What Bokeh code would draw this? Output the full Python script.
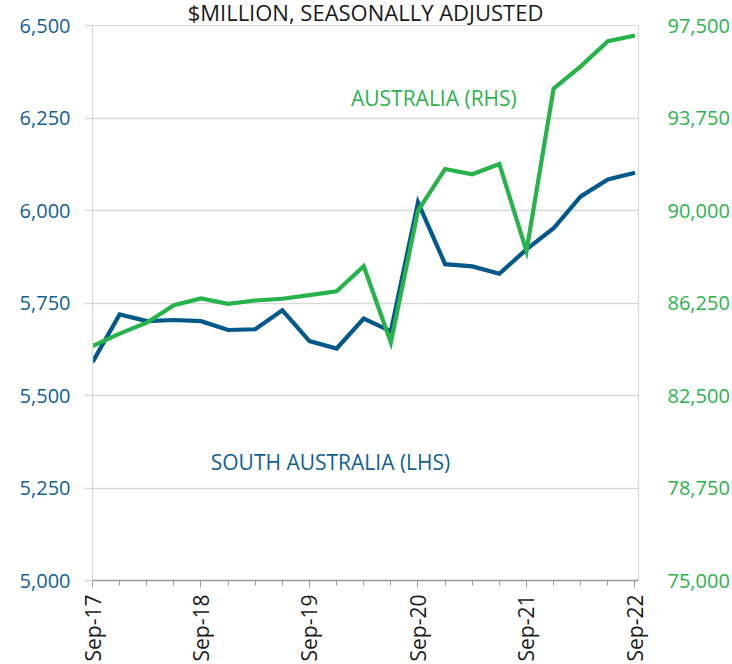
import math
from bokeh.plotting import figure
from bokeh.models import Range1d, LinearAxis, FixedTicker, NumeralTickFormatter, Label
from bokeh.embed import file_html
from bokeh.resources import INLINE

quarters = ["Sep-17", "Dec-17", "Mar-18", "Jun-18", "Sep-18", "Dec-18", "Mar-19", "Jun-19",
            "Sep-19", "Dec-19", "Mar-20", "Jun-20", "Sep-20", "Dec-20", "Mar-21", "Jun-21",
            "Sep-21", "Dec-21", "Mar-22", "Jun-22", "Sep-22"]
south_australia = [5590, 5719, 5701, 5704, 5701, 5677, 5679, 5730, 5647, 5627, 5708, 5674,
                   6022, 5855, 5849, 5829, 5895, 5952, 6038, 6084, 6102]
australia = [84506, 85007, 85451, 86163, 86433, 86218, 86352, 86421, 86566, 86728, 87738, 84650,
             89987, 91684, 91470, 91886, 88350, 94943, 95844, 96866, 97096]
lhs_ticks = [5000, 5250, 5500, 5750, 6000, 6250, 6500]
rhs_ticks = [75000, 78750, 82500, 86250, 90000, 93750, 97500]

BLUE = "#00588B"
GREEN = "#26B34B"
BLUE_TXT = "#145F94"
GREEN_TXT = "#2DB34D"
GRID = "#D9D9D9"
FONT = "Open Sans"

x = list(range(len(quarters)))

p = figure(width=732, height=664, output_backend="svg", toolbar_location=None,
           x_range=Range1d(0, 20.13), y_range=Range1d(5000, 6500),
           min_border_left=92, min_border_right=91, min_border_top=25, min_border_bottom=82,
           title="$MILLION, SEASONALLY ADJUSTED")
p.title.text_font = FONT
p.title.text_font_size = "22px"
p.title.text_font_style = "normal"
p.title.text_color = "#1A1A1A"
p.title.align = "center"
p.title.vertical_align = "top"
p.title.offset = 16
p.title.standoff = -7
p.extra_y_ranges = {"rhs": Range1d(75000, 97500)}
p.outline_line_color = GRID
p.background_fill_color = "white"
p.border_fill_color = "white"

p.line(x, south_australia, line_color=BLUE, line_width=4.2, line_join="miter")
p.line(x, australia, line_color=GREEN, line_width=4.2, line_join="miter", y_range_name="rhs")

# x axis
xa = p.xaxis[0]
xa.ticker = FixedTicker(ticks=[i for i in x if quarters[i].startswith("Sep")], minor_ticks=x)
xa.major_label_overrides = {i: quarters[i] for i in x if quarters[i].startswith("Sep")}
xa.major_label_orientation = math.pi / 2
xa.major_label_text_font = FONT
xa.major_label_text_font_size = "21px"
xa.major_label_text_color = "#1A1A1A"
xa.major_label_standoff = 7
xa.axis_line_color = "#999999"
xa.axis_line_width = 1.5
xa.major_tick_line_color = "#999999"
xa.minor_tick_line_color = "#999999"
xa.major_tick_out = 7
xa.major_tick_in = 0
xa.minor_tick_out = 5
xa.minor_tick_in = 0

# left axis
ya = p.yaxis[0]
ya.ticker = FixedTicker(ticks=lhs_ticks)
ya.formatter = NumeralTickFormatter(format="0,0")
ya.major_label_text_font = FONT
ya.major_label_text_font_size = "20px"
ya.major_label_text_color = BLUE_TXT
ya.axis_line_color = GRID
ya.axis_line_width = 1.3
ya.major_tick_line_color = GRID
ya.major_tick_line_width = 1.3
ya.major_tick_out = 8
ya.major_tick_in = 0
ya.minor_tick_line_color = None
ya.major_label_standoff = 14

# right axis
ra = LinearAxis(y_range_name="rhs", ticker=FixedTicker(ticks=rhs_ticks),
                formatter=NumeralTickFormatter(format="0,0"))
ra.major_label_text_font = FONT
ra.major_label_text_font_size = "20px"
ra.major_label_text_color = GREEN_TXT
ra.axis_line_color = GRID
ra.axis_line_width = 1.3
ra.major_tick_line_color = None
ra.minor_tick_line_color = None
ra.major_label_standoff = 23
p.add_layout(ra, "right")

p.xgrid.grid_line_color = None
p.ygrid.ticker = FixedTicker(ticks=lhs_ticks)
p.ygrid.grid_line_color = GRID
p.ygrid.grid_line_width = 1.3

p.add_layout(Label(x=9.53, y=6303, text="AUSTRALIA (RHS)", text_color=GREEN_TXT,
                   text_font=FONT, text_font_size="21px", text_baseline="alphabetic"))
p.add_layout(Label(x=4.36, y=5320, text="SOUTH AUSTRALIA (LHS)", text_color=BLUE_TXT,
                   text_font=FONT, text_font_size="21px", text_baseline="alphabetic"))

open("out.html", "w").write(file_html(p, INLINE))
